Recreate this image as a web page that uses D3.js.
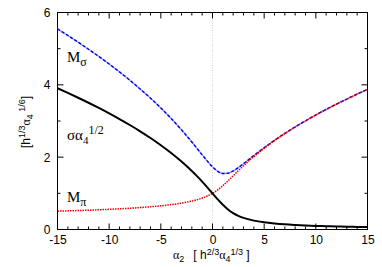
<!DOCTYPE html>
<html>
<head>
<meta charset="utf-8">
<script src="https://cdn.jsdelivr.net/npm/d3@7"></script>
<style>
  body { margin: 0; background: #fff; }
  svg text { font-family: "Liberation Sans", Arial, sans-serif; }
  .serif { font-family: "Liberation Serif", "Times New Roman", serif; }
</style>
</head>
<body>
<svg id="svg" width="382" height="267"></svg>
<script>
// alpha_2 values (x) and the three curves
const alpha2 = [-15, -14, -13, -12, -11, -10, -9, -8, -7, -6, -5, -4, -3, -2, -1.5, -1, -0.5,
  0, 0.5, 1, 1.5, 2, 2.5, 3, 4, 5, 6, 7, 8, 9, 10, 11, 12, 13, 14, 15]
const sigmaVals = [3.906, 3.777, 3.643, 3.505, 3.361, 3.211, 3.054, 2.889, 2.715, 2.529, 2.330,
  2.115, 1.879, 1.618, 1.476, 1.325, 1.165, 1.000, 0.835, 0.682, 0.554, 0.453, 0.378, 0.322,
  0.246, 0.198, 0.166, 0.142, 0.125, 0.111, 0.100, 0.091, 0.083, 0.077, 0.071, 0.067]
const mSigmaVals = [5.547, 5.366, 5.179, 4.985, 4.785, 4.575, 4.357, 4.128, 3.886, 3.632, 3.360,
  3.069, 2.756, 2.420, 2.243, 2.065, 1.891, 1.732, 1.610, 1.548, 1.556, 1.618, 1.712, 1.820,
  2.045, 2.262, 2.466, 2.657, 2.837, 3.006, 3.167, 3.320, 3.467, 3.608, 3.744, 3.875]
const mPiVals = [0.506, 0.515, 0.524, 0.534, 0.546, 0.558, 0.572, 0.588, 0.607, 0.629, 0.655,
  0.688, 0.729, 0.786, 0.823, 0.869, 0.926, 1.000, 1.094, 1.211, 1.344, 1.485, 1.626, 1.762,
  2.015, 2.245, 2.455, 2.650, 2.831, 3.002, 3.164, 3.318, 3.465, 3.606, 3.742, 3.874]
const xTicks = [-15, -10, -5, 0, 5, 10, 15]
const yTicks = [0, 2, 4, 6]

const svg = d3.select('#svg')
const pLeft = 57.5, pRight = 367.5, pTop = 12.5, pBottom = 229.5

const x = d3.scaleLinear().domain([-15, 15]).range([pLeft, pRight])
const y = d3.scaleLinear().domain([0, 6]).range([pBottom, pTop])

// zero line
svg.append('line')
  .attr('x1', x(0)).attr('x2', x(0))
  .attr('y1', pTop).attr('y2', pBottom)
  .attr('stroke', '#ccc').attr('stroke-width', 0.8)
  .attr('stroke-dasharray', '1,1.5')

// ticks on all four sides, pointing inward
const xMinor = d3.range(-15, 16, 1)
const yMinor = d3.range(0, 7, 1)
const tickG = svg.append('g').attr('stroke', '#000').attr('stroke-width', 1)
xMinor.forEach(v => {
  const len = xTicks.includes(v) ? 6 : 3
  tickG.append('line').attr('x1', x(v)).attr('x2', x(v)).attr('y1', pBottom).attr('y2', pBottom - len)
  tickG.append('line').attr('x1', x(v)).attr('x2', x(v)).attr('y1', pTop).attr('y2', pTop + len)
})
yMinor.forEach(v => {
  const len = yTicks.includes(v) ? 6 : 3
  tickG.append('line').attr('y1', y(v)).attr('y2', y(v)).attr('x1', pLeft).attr('x2', pLeft + len)
  tickG.append('line').attr('y1', y(v)).attr('y2', y(v)).attr('x1', pRight).attr('x2', pRight - len)
})

// tick labels via axes (plain hyphen minus, no decimals)
const fmt = d => String(d)
const xAxis = svg.append('g')
  .attr('transform', `translate(0,${pBottom})`)
  .call(d3.axisBottom(x).tickValues(xTicks).tickFormat(fmt).tickSize(0).tickPadding(6))
xAxis.select('.domain').remove()
xAxis.selectAll('text').attr('font-size', 12).attr('fill', '#000')
  .attr('font-family', '"Liberation Sans", Arial, sans-serif')

const yAxis = svg.append('g')
  .attr('transform', `translate(${pLeft},0)`)
  .call(d3.axisLeft(y).tickValues(yTicks).tickFormat(fmt).tickSize(0).tickPadding(7))
yAxis.select('.domain').remove()
yAxis.selectAll('text').attr('font-size', 12).attr('fill', '#000')
  .attr('font-family', '"Liberation Sans", Arial, sans-serif')

// curves
const line = vals => d3.line()
  .x((d, i) => x(alpha2[i]))
  .y(d => y(d))
  .curve(d3.curveMonotoneX)(vals)

svg.append('path').attr('d', line(mSigmaVals))
  .attr('fill', 'none').attr('stroke', '#8899ff').attr('stroke-width', 1.3)
svg.append('path').attr('d', line(mSigmaVals))
  .attr('fill', 'none').attr('stroke', '#0000ee').attr('stroke-width', 1.4)
  .attr('stroke-dasharray', '3,2')
svg.append('path').attr('d', line(mPiVals))
  .attr('fill', 'none').attr('stroke', '#ee0000').attr('stroke-width', 1.5)
  .attr('stroke-dasharray', '1.5,1')
svg.append('path').attr('d', line(sigmaVals))
  .attr('fill', 'none').attr('stroke', '#000').attr('stroke-width', 2)

// frame
svg.append('rect')
  .attr('x', pLeft).attr('y', pTop)
  .attr('width', pRight - pLeft).attr('height', pBottom - pTop)
  .attr('fill', 'none').attr('stroke', '#000').attr('stroke-width', 1)

// curve labels
const mSig = svg.append('text').attr('class', 'serif').attr('x', 67).attr('y', 62)
  .attr('font-size', 15)
mSig.append('tspan').text('M')
mSig.append('tspan').attr('dy', 4).attr('font-size', 12).text('σ')

const sig = svg.append('text').attr('class', 'serif').attr('x', 67).attr('y', 139.5)
  .attr('font-size', 15)
sig.append('tspan').text('σα')
sig.append('tspan').attr('dy', 4).attr('font-size', 11).text('4')
sig.append('tspan').attr('dy', -10).attr('font-size', 12).text('1/2')

const mPi = svg.append('text').attr('class', 'serif').attr('x', 67).attr('y', 202)
  .attr('font-size', 15)
mPi.append('tspan').text('M')
mPi.append('tspan').attr('dy', 4).attr('font-size', 12).text('π')

// axis titles
const xl = svg.append('text').attr('x', 173).attr('y', 259).attr('font-size', 12)
xl.append('tspan').attr('class', 'serif').text('α')
xl.append('tspan').attr('dy', 3).attr('font-size', 9).text('2')
xl.append('tspan').attr('dy', -3).attr('dx', 9).text('[ h')
xl.append('tspan').attr('dy', -4).attr('font-size', 9).text('2/3')
xl.append('tspan').attr('dy', 4).attr('class', 'serif').text('α')
xl.append('tspan').attr('dy', 3).attr('font-size', 9).text('4')
xl.append('tspan').attr('dy', -7).attr('font-size', 9).text('1/3')
xl.append('tspan').attr('dy', 4).text(' ]')

const yl = svg.append('text').attr('transform', 'translate(30,148) rotate(-90)')
  .attr('font-size', 12)
yl.append('tspan').text('[h')
yl.append('tspan').attr('dy', -5).attr('font-size', 9).text('1/3')
yl.append('tspan').attr('dy', 5).attr('class', 'serif').text('α')
yl.append('tspan').attr('dy', 3).attr('font-size', 9).text('4')
yl.append('tspan').attr('dy', -8).attr('font-size', 9).text(' 1/6')
yl.append('tspan').attr('dy', 5).text(']')
</script>
</body>
</html>
